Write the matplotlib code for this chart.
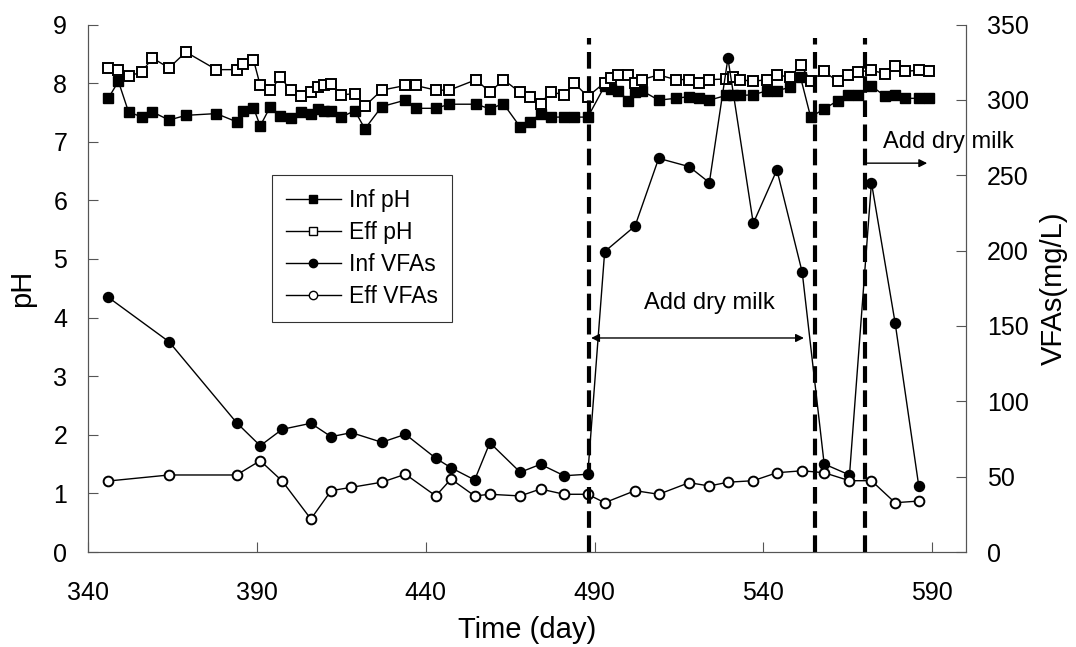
import matplotlib
matplotlib.use('Agg')
import matplotlib.pyplot as plt
from matplotlib.lines import Line2D

plt.rcParams['font.family'] = ['Liberation Sans', 'DejaVu Sans']

# pH sampling days (influent and effluent measured on the same days)
days_ph = [346, 349, 352, 356, 359, 364, 369, 378, 384, 386, 389, 391, 394, 397,
           400, 403, 406, 408, 410, 412, 415, 419, 422, 427, 434, 437, 443, 447,
           455, 459, 463, 468, 471, 474, 477, 481, 484, 488, 493, 495, 497, 500,
           502, 504, 509, 514, 518, 521, 524, 529, 531, 533, 537, 541, 544, 548,
           551, 554, 558, 562, 565, 568, 572, 576, 579, 582, 586, 589]

inf_ph = [7.74, 8.03, 7.51, 7.42, 7.51, 7.37, 7.45, 7.48, 7.34, 7.53, 7.58, 7.27, 7.60, 7.44,
          7.40, 7.50, 7.48, 7.55, 7.52, 7.53, 7.42, 7.53, 7.22, 7.60, 7.71, 7.57, 7.57, 7.64,
          7.64, 7.56, 7.65, 7.25, 7.34, 7.48, 7.42, 7.42, 7.42, 7.42, 7.95, 7.90, 7.87, 7.70,
          7.85, 7.87, 7.71, 7.74, 7.77, 7.75, 7.71, 7.79, 7.79, 7.79, 7.80, 7.87, 7.87, 7.93,
          8.10, 7.42, 7.56, 7.70, 7.80, 7.80, 7.95, 7.78, 7.79, 7.74, 7.74, 7.74]

eff_ph = [8.26, 8.22, 8.12, 8.19, 8.43, 8.26, 8.53, 8.23, 8.23, 8.33, 8.40, 7.96, 7.88, 8.10,
          7.88, 7.78, 7.84, 7.94, 7.97, 7.99, 7.80, 7.82, 7.61, 7.88, 7.96, 7.96, 7.88, 7.88,
          8.06, 7.84, 8.06, 7.84, 7.76, 7.65, 7.85, 7.80, 8.00, 7.77, 8.01, 8.08, 8.13, 8.13,
          8.01, 8.06, 8.14, 8.06, 8.06, 8.00, 8.06, 8.07, 8.10, 8.06, 8.03, 8.06, 8.14, 8.10,
          8.31, 8.04, 8.20, 8.03, 8.14, 8.19, 8.22, 8.16, 8.29, 8.20, 8.22, 8.20]

# VFA sampling days (mg/L)
days_vfa = [346, 364, 384, 391, 397.5, 406, 412, 418, 427, 434, 443, 447.5, 454.5, 459,
            468, 474, 481, 488, 493, 502, 509, 518, 524, 529.5, 537, 544, 551.5, 558,
            565.5, 572, 579, 586]

inf_vfa = [169.0, 139.5, 85.8, 70.5, 81.4, 85.4, 76.5, 79.2, 72.8, 78.1, 62.2, 55.9, 47.8, 72.5,
           52.9, 58.2, 50.6, 51.6, 199.3, 216.3, 261.2, 255.7, 245.1, 327.6, 218.1, 253.5, 185.6, 58.4,
           51.1, 245.1, 152.2, 44.0]

eff_vfa = [47.1, 51.1, 51.1, 60.6, 47.1, 21.9, 40.7, 42.9, 46.3, 51.6, 37.2, 48.4, 37.2, 38.3,
           37.2, 41.8, 38.3, 38.3, 32.7, 40.7, 38.3, 46.0, 43.8, 46.3, 47.3, 52.6, 53.9, 52.6,
           47.3, 47.3, 32.7, 33.8]

# days when dry milk dosing started / stopped
event_days = [488.5, 555.2, 570.1]

fig = plt.figure(figsize=(10.76, 6.47), dpi=100)
ax1 = fig.add_axes([88 / 1076, 1 - 552 / 647, (966 - 88) / 1076, (552 - 24.5) / 647])
ax2 = ax1.twinx()

line_kw = dict(color='black', linewidth=1.0)
ax1.plot(days_ph, inf_ph, marker='s', markersize=7.8, markerfacecolor='black',
         markeredgecolor='black', **line_kw)
ax1.plot(days_ph, eff_ph, marker='s', markersize=7.8, markerfacecolor='white',
         markeredgecolor='black', markeredgewidth=1.4, **line_kw)
ax2.plot(days_vfa, inf_vfa, marker='o', markersize=7.2, markerfacecolor='black',
         markeredgecolor='black', **line_kw)
ax2.plot(days_vfa, eff_vfa, marker='o', markersize=7, markerfacecolor='white',
         markeredgecolor='black', markeredgewidth=1.4, **line_kw)

ax2.vlines(event_days, 0, 341, color='black', linewidth=3, linestyle=(0, (4, 1.8)))

# dosing period annotations
ax2.annotate('', xy=(552, 142), xytext=(489, 142),
             arrowprops=dict(arrowstyle='<|-|>', color='black', lw=1.0, mutation_scale=12,
                             shrinkA=0, shrinkB=0))
ax2.text(524, 165, 'Add dry milk', fontsize=17, ha='center', va='center')
ax2.annotate('', xy=(588.5, 258), xytext=(570, 258),
             arrowprops=dict(arrowstyle='-|>', color='black', lw=1.0, mutation_scale=12,
                             shrinkA=0, shrinkB=0))
ax2.text(575.5, 272, 'Add dry milk', fontsize=17, ha='left', va='center', clip_on=False)

ax1.set_xlim(340, 600)
ax1.set_xticks([340, 390, 440, 490, 540, 590])
ax1.set_ylim(0, 9)
ax1.set_yticks(range(0, 10))
ax2.set_ylim(0, 350)
ax2.set_yticks(range(0, 351, 50))

for ax in (ax1, ax2):
    ax.tick_params(direction='in', length=7, width=0.8, color='#555555', labelsize=18, pad=15)
    for s in ax.spines.values():
        s.set_color('#555555')
        s.set_linewidth(0.8)
    ax.spines['top'].set_visible(False)
ax1.tick_params(axis='x', pad=21)

ax1.set_xlabel('Time (day)', fontsize=21, labelpad=8)
ax1.set_ylabel('pH', fontsize=21, labelpad=12)
ax2.set_ylabel('VFAs(mg/L)', fontsize=21, labelpad=8)

handles = [
    Line2D([], [], color='black', lw=1.0, marker='s', markersize=6, markerfacecolor='black'),
    Line2D([], [], color='black', lw=1.0, marker='s', markersize=6, markerfacecolor='white'),
    Line2D([], [], color='black', lw=1.0, marker='o', markersize=6, markerfacecolor='black'),
    Line2D([], [], color='black', lw=1.0, marker='o', markersize=6, markerfacecolor='white'),
]
labels = ['Inf pH', 'Eff pH', 'Inf VFAs', 'Eff VFAs']
leg = ax2.legend(handles, labels, loc='upper left', bbox_to_anchor=(272 / 1076, 1 - 175 / 647),
                 bbox_transform=fig.transFigure, fontsize=16.5, frameon=True, fancybox=False,
                 borderpad=0.6, labelspacing=0.4, handlelength=2.4, handletextpad=0.35,
                 borderaxespad=0)
leg.get_frame().set_edgecolor('black')
leg.get_frame().set_linewidth(0.8)

plt.savefig('out.png', dpi=100)
